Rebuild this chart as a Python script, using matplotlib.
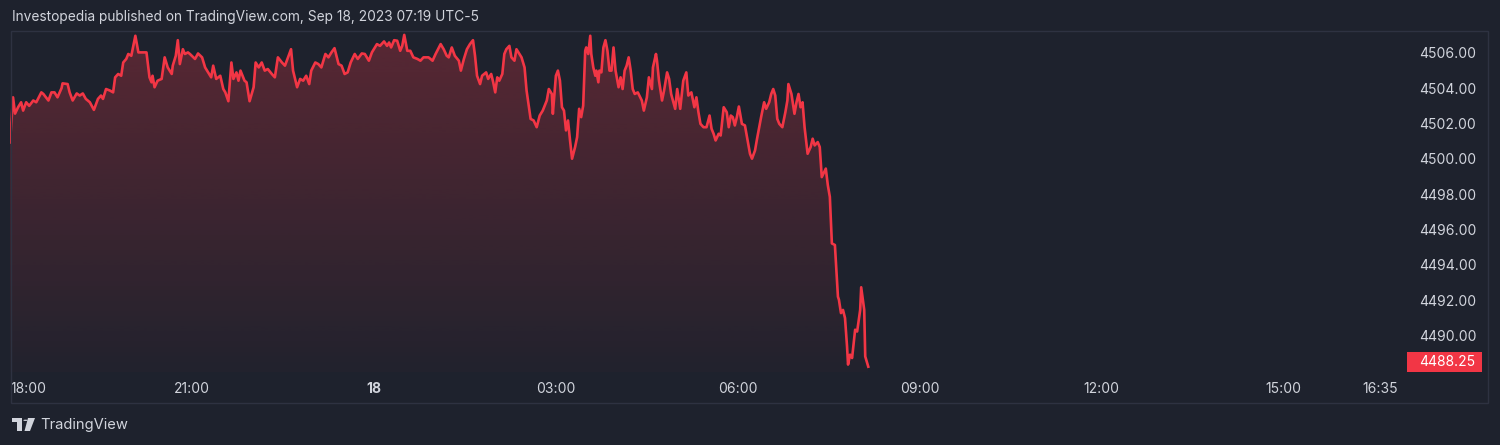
import numpy as np
import matplotlib
matplotlib.use("Agg")
from matplotlib import pyplot as plt
from matplotlib.patches import Rectangle, Polygon, Circle

# ES futures, minutes after 18:00 (Sep 17) and last price
t_min = [0, 3, 5, 8, 11, 13, 16, 19, 23, 26, 31, 33, 38, 41, 44, 47, 51, 52, 57, 59,
         62, 66, 69, 72, 75, 79, 83, 87, 90, 92, 95, 99, 102, 104, 107, 110, 112, 115, 117, 120,
         122, 124, 127, 130, 135, 138, 140, 141, 143, 146, 150, 153, 156, 160, 161, 164, 166, 168, 171, 173,
         176, 178, 183, 186, 190, 193, 196, 199, 201, 204, 208, 211, 213, 216, 219, 221, 224, 226, 228, 232,
         234, 237, 241, 243, 246, 249, 252, 255, 259, 262, 265, 269, 272, 275, 278, 280, 284, 287, 290, 293,
         296, 298, 302, 305, 308, 312, 315, 318, 321, 325, 328, 331, 334, 337, 341, 344, 348, 351, 355, 358,
         363, 366, 370, 373, 375, 377, 380, 383, 386, 388, 390, 393, 396, 399, 403, 406, 409, 414, 418, 421,
         426, 429, 432, 434, 437, 440, 444, 446, 449, 452, 455, 458, 460, 462, 465, 467, 471, 473, 476, 478,
         480, 482, 484, 487, 489, 491, 494, 496, 499, 501, 504, 506, 509, 511, 515, 518, 521, 524, 527, 531,
         533, 536, 537, 540, 542, 544, 546, 548, 550, 552, 554, 556, 559, 561, 563, 565, 567, 569, 570, 572,
         574, 575, 577, 579, 580, 582, 583, 585, 587, 589, 591, 593, 595, 597, 599, 602, 604, 606, 608, 610,
         612, 614, 616, 618, 621, 625, 627, 630, 632, 635, 636, 639, 640, 642, 645, 647, 650, 652, 654, 658,
         660, 663, 666, 669, 671, 674, 677, 679, 681, 683, 686, 689, 692, 694, 696, 698, 701, 703, 706, 709,
         711, 713, 715, 717, 719, 721, 724, 727, 730, 732, 734, 737, 739, 743, 746, 748, 751, 753, 755, 757,
         759, 761, 764, 767, 769, 770, 773, 776, 778, 780, 782, 784, 786, 789, 792, 794, 796, 799, 801, 803,
         807, 809, 811, 813, 816, 819, 820, 822, 824, 826, 828, 829, 831, 833, 836, 838, 841, 842, 845, 846,
         849]
price = [4500.93, 4503.48, 4502.56, 4502.92, 4503.20, 4502.73, 4503.20, 4503.00, 4503.30, 4503.20,
         4503.76, 4503.67, 4503.30, 4503.76, 4503.76, 4503.48, 4504.00, 4504.27, 4504.23, 4503.76,
         4503.30, 4503.70, 4503.58, 4503.70, 4503.39, 4503.20, 4502.77, 4503.39, 4503.58, 4503.39,
         4503.95, 4503.86, 4503.76, 4504.61, 4504.80, 4504.70, 4505.45, 4505.65, 4505.93, 4505.83,
         4506.39, 4506.96, 4506.02, 4506.02, 4506.02, 4504.61, 4504.33, 4504.70, 4504.05, 4504.42,
         4504.52, 4505.74, 4505.17, 4504.80, 4505.27, 4505.83, 4506.71, 4505.36, 4506.20, 4505.93,
         4506.02, 4505.93, 4505.65, 4505.96, 4505.74, 4505.17, 4504.89, 4504.61, 4505.27, 4504.52,
         4504.70, 4503.95, 4503.76, 4503.26, 4505.45, 4504.52, 4504.89, 4504.42, 4504.99, 4504.42,
         4504.33, 4503.26, 4504.05, 4505.45, 4505.17, 4505.45, 4504.99, 4505.08, 4504.80, 4504.61,
         4505.74, 4505.45, 4505.27, 4505.74, 4506.20, 4504.99, 4504.05, 4504.52, 4504.42, 4504.70,
         4504.23, 4504.99, 4505.45, 4505.36, 4505.17, 4505.93, 4505.74, 4506.02, 4506.26, 4505.36,
         4505.27, 4504.80, 4504.89, 4505.45, 4505.93, 4505.65, 4505.96, 4505.93, 4505.55, 4506.02,
         4506.49, 4506.39, 4506.64, 4506.39, 4506.58, 4506.30, 4506.71, 4506.68, 4506.11, 4506.39,
         4507.01, 4506.11, 4506.11, 4505.74, 4505.65, 4505.55, 4505.74, 4505.74, 4505.55, 4505.93,
         4506.49, 4506.20, 4505.83, 4505.74, 4506.30, 4505.83, 4505.55, 4504.99, 4505.65, 4506.20,
         4506.49, 4506.71, 4505.83, 4504.70, 4504.23, 4504.70, 4504.89, 4504.52, 4504.80, 4504.33,
         4503.76, 4504.61, 4504.42, 4504.80, 4505.93, 4506.20, 4506.39, 4505.74, 4505.55, 4506.20,
         4505.93, 4505.74, 4505.17, 4503.86, 4502.26, 4502.17, 4501.79, 4502.45, 4502.73, 4503.30,
         4503.95, 4503.67, 4502.55, 4504.70, 4504.99, 4504.42, 4502.92, 4502.73, 4501.61, 4502.17,
         4501.04, 4500.01, 4500.67, 4501.23, 4502.83, 4502.36, 4503.01, 4506.11, 4506.30, 4505.93,
         4506.96, 4505.93, 4505.17, 4504.70, 4504.99, 4504.33, 4504.99, 4504.89, 4506.30, 4506.71,
         4506.11, 4504.99, 4504.99, 4506.30, 4504.99, 4504.05, 4504.61, 4503.95, 4504.99, 4505.27,
         4505.74, 4504.99, 4503.95, 4503.67, 4503.76, 4503.30, 4502.73, 4503.48, 4504.61, 4503.95,
         4505.17, 4505.93, 4505.55, 4504.42, 4503.30, 4503.86, 4504.89, 4504.52, 4503.67, 4502.83,
         4503.95, 4502.83, 4504.42, 4504.89, 4503.58, 4503.76, 4502.92, 4503.48, 4502.64, 4501.98,
         4501.79, 4501.79, 4502.45, 4501.70, 4501.42, 4501.04, 4501.42, 4501.32, 4502.92, 4502.64,
         4501.79, 4502.45, 4502.36, 4501.89, 4502.36, 4502.96, 4501.98, 4501.89, 4500.95, 4500.29,
         4500.01, 4500.48, 4501.14, 4502.36, 4503.20, 4502.83, 4503.20, 4503.67, 4503.95, 4503.58,
         4502.26, 4501.98, 4501.79, 4502.64, 4503.30, 4504.23, 4503.67, 4502.55, 4503.20, 4503.67,
         4502.92, 4503.20, 4501.79, 4500.29, 4500.67, 4501.14, 4500.76, 4500.95, 4500.67, 4498.97,
         4499.45, 4498.51, 4497.85, 4495.22, 4495.13, 4492.21, 4492.03, 4491.28, 4491.46, 4491.00,
         4489.40, 4488.37, 4488.93, 4488.74, 4490.34, 4490.24, 4491.46, 4492.74, 4491.46, 4488.83,
         4488.25]

x_ticks = [0, 180, 360, 540, 720, 900, 1080, 1260, 1355]
x_labels = ["18:00", "21:00", "18", "03:00", "06:00", "09:00", "12:00", "15:00", "16:35"]
y_ticks = [4490, 4492, 4494, 4496, 4498, 4500, 4502, 4504, 4506]

title = "Investopedia published on TradingView.com, Sep 18, 2023 07:19 UTC-5"

BG = "#1e222d"
RED = "#f23645"
TXT = "#d1d4dc"
W, H = 1500, 445

plt.rcParams['font.family'] = ['Inter', 'DejaVu Sans']

fig = plt.figure(figsize=(W / 100, H / 100), dpi=100, facecolor=BG)

# pane border
fig.patches.append(Rectangle((11 / W, 1 - 403 / H), 1477 / W, 372 / H, transform=fig.transFigure,
                             fill=False, ec="#2e3241", lw=1))

ax = fig.add_axes([10 / W, 1 - 372 / H, 1390 / W, 341 / H])
ax.set_facecolor(BG)
ax.patch.set_alpha(0)
ymin, ymax = 4487.95, 4507.23
ax.set_xlim(0, 1375)
ax.set_ylim(ymin, ymax)
for s in ax.spines.values():
    s.set_visible(False)

t = np.array(t_min)
p = np.array(price)

# gradient area under the line
area = ax.fill_between(t, p, ymin, facecolor="none", edgecolor="none")
rgba = np.zeros((256, 1, 4))
rgba[..., 0], rgba[..., 1], rgba[..., 2] = 242 / 255, 54 / 255, 69 / 255
rgba[:, 0, 3] = np.linspace(0.28, 0.02, 256)
im = ax.imshow(rgba, extent=[t.min(), t.max(), ymin, p.max()], aspect="auto", origin="upper", zorder=1)
im.set_clip_path(area.get_paths()[0], transform=ax.transData)

ax.plot(t, p, color=RED, lw=1.9, zorder=3, solid_joinstyle="round")

ax.set_xticks(x_ticks)
ax.set_xticklabels(x_labels)
ax.tick_params(axis="x", length=0, pad=7.5, colors=TXT, labelsize=10)
for lab in ax.get_xticklabels():
    if lab.get_text() == "18":
        lab.set_fontweight("bold")
    if lab.get_text() == "18:00":
        lab.set_horizontalalignment("left")

ax.yaxis.tick_right()
ax.set_yticks(y_ticks)
ax.set_yticklabels([f"{v:.2f}" for v in y_ticks])
ax.tick_params(axis="y", length=0, pad=14, colors=TXT, labelsize=10)

# last price label on the scale
last = p[-1]
ypix = ax.transData.transform((0, last))[1]
bottom_pix = ax.transAxes.transform((0, 0))[1]
box_h = 20
yc = max(ypix, bottom_pix + box_h / 2)
fig.patches.append(Rectangle((1407 / W, (yc - box_h / 2) / H), 75 / W, box_h / H,
                             transform=fig.transFigure, fc=RED, ec="none"))
fig.text(1419 / W, yc / H, f"{last:.2f}", color="white", fontsize=10, va="center", ha="left")

fig.text(12 / W, 1 - 17 / H, title, color=TXT, fontsize=9.9, va="center", ha="left")

# TradingView logo
logo = [Polygon([(12, 418), (22, 418), (22, 431), (17, 431), (17, 422), (12, 422)], closed=True),
        Polygon([(28, 418), (35, 418), (30, 431), (24.5, 431)], closed=True)]
for poly in logo:
    xy = poly.get_xy()
    poly.set_xy(np.column_stack([xy[:, 0] / W, 1 - xy[:, 1] / H]))
    poly.set_transform(fig.transFigure)
    poly.set_facecolor(TXT)
    poly.set_edgecolor("none")
    fig.patches.append(poly)
fig.patches.append(Circle((25.5 / W, 1 - 420.3 / H), 2.2 / W, transform=fig.transFigure, fc=TXT, ec="none"))
fig.text(40 / W, 1 - 425 / H, "TradingView", color=TXT, fontsize=10.6, va="center", ha="left")

fig.savefig("out.png", dpi=100, facecolor=BG)
